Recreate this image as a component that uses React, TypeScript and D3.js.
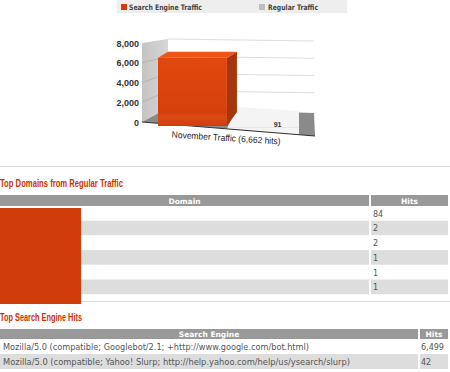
import React from "react";
import * as d3 from "d3";

const seriesNames = ["Search Engine Traffic", "Regular Traffic"];
const seriesValues = [6571, 91];
const yTicks = [0, 2000, 4000, 6000, 8000];
const categoryLabel = "November Traffic (6,662 hits)";

const domainTitle = "Top Domains from Regular Traffic";
const domainHeaders = ["Domain", "Hits"];
const domainNames = ["", "", "", "", "", ""];
const domainHits = [84, 2, 2, 1, 1, 1];

const engineTitle = "Top Search Engine Hits";
const engineHeaders = ["Search Engine", "Hits"];
const engineNames = [
  "Mozilla/5.0 (compatible; Googlebot/2.1; +http://www.google.com/bot.html)",
  "Mozilla/5.0 (compatible; Yahoo! Slurp; http://help.yahoo.com/help/us/ysearch/slurp)",
];
const engineHits = [6499, 42];

const RED = "#d13c0b";
const TITLE_RED = "#cc3300";
const fmt = d3.format(",");

const pts = (a: number[][]) => a.map((p) => p.join(",")).join(" ");

function Chart() {
  const yFront = d3.scaleLinear().domain([0, 8000]).range([126, 43]);
  const yLeft = d3.scaleLinear().domain([0, 8000]).range([122, 43]);
  const yBack = d3.scaleLinear().domain([0, 8000]).range([108, 39]);
  const x = d3.scaleBand<string>().domain(seriesNames).range([158, 298]).paddingInner(0.03);
  const dx = 10, dy = -6;
  const wallL = 142, wallB = 168, wallR = 314;
  const floorY = (px: number) => yLeft(0) + ((px - wallL) * 14) / (wallR + 1 - wallL);

  const b0 = x(seriesNames[0])!;
  const bw = x.bandwidth();
  const top0 = yFront(seriesValues[0]);
  const bot0 = yFront(0);
  const b1 = x(seriesNames[1])!;

  return (
    <g>
      <defs>
        <linearGradient id="lw" x1="0" x2="1" y1="0" y2="0">
          <stop offset="0" stopColor="#c4c4c4" />
          <stop offset="1" stopColor="#d6d6d6" />
        </linearGradient>
        <linearGradient id="ff" x1="0" x2="0" y1="0" y2="1">
          <stop offset="0" stopColor="#e2480f" />
          <stop offset="0.8" stopColor="#d4400c" />
          <stop offset="0.86" stopColor="#dc4a14" />
          <stop offset="1" stopColor="#cf3e0c" />
        </linearGradient>
      </defs>
      {/* legend */}
      <rect x={117} y={0} width={230} height={13} fill="#eeeeee" />
      <rect x={121} y={4} width={6} height={6} fill={RED} />
      <text x={129} y={10} fontFamily="DejaVu Sans" fontWeight="bold" fontSize={7.5} fill="#444" textLength={73} lengthAdjust="spacingAndGlyphs">{seriesNames[0]}</text>
      <rect x={259} y={4} width={6} height={6} fill="#bdbdbd" />
      <text x={268} y={10} fontFamily="DejaVu Sans" fontWeight="bold" fontSize={7.5} fill="#444" textLength={50} lengthAdjust="spacingAndGlyphs">{seriesNames[1]}</text>

      {/* back wall */}
      <polygon points={pts([[wallB, yBack(8000)], [wallR, yBack(8000) + 2], [wallR, yBack(0) + 5], [wallB, yBack(0)]])} fill="#ffffff" />
      {yTicks.slice(1).map((t) => (
        <line key={"bg" + t} x1={wallB} x2={wallR} y1={yBack(t)} y2={yBack(t) + 2} stroke="#dddddd" strokeWidth={1} />
      ))}
      {/* left wall */}
      <polygon points={pts([[wallL, yLeft(8000)], [wallB, yBack(8000)], [wallB, yBack(0)], [wallL, yLeft(0)]])} fill="url(#lw)" />
      {yTicks.slice(1, -1).map((t) => (
        <line key={"lg" + t} x1={wallL} x2={wallB} y1={yLeft(t)} y2={yBack(t)} stroke="#b0b0b0" strokeWidth={0.8} />
      ))}
      {/* floor */}
      <polygon points={pts([[wallL, yLeft(0)], [wallB, yBack(0)], [wallR, yBack(0) + 5], [wallR + 1, floorY(wallR + 1)]])} fill="#8a8a8a" />
      <polygon points={pts([[b0 + bw, floorY(b0 + bw)], [b1 + bw + 1, floorY(b1 + bw + 1)], [b1 + bw + 1, yBack(0) + 3], [b0 + bw + dx, yBack(0) - 1]])} fill="#f4f4f4" />
      <line x1={wallL} x2={wallR + 1} y1={floorY(wallL)} y2={floorY(wallR + 1)} stroke="#333" strokeWidth={1} />

      {/* regular traffic bar (tiny) */}
      <rect x={b1} y={yFront(seriesValues[1]) + 2} width={bw} height={bot0 - yFront(seriesValues[1])} fill="#e6e6e6" />
      <text x={b1 + bw / 2 + dx + 4} y={127} textAnchor="middle" fontFamily="Liberation Sans" fontWeight="bold" fontSize={7} fill="#333">{seriesValues[1]}</text>

      {/* search engine bar */}
      <polygon points={pts([[b0 + bw, top0], [b0 + bw + dx, top0 + dy], [b0 + bw + dx, yBack(0) + 4], [b0 + bw, bot0]])} fill="#a5360d" />
      <polygon points={pts([[b0, top0], [b0 + bw, top0], [b0 + bw + dx, top0 + dy], [b0 + dx, top0 + dy]])} fill="#f05518" />
      <rect x={b0} y={top0} width={bw} height={bot0 - top0} fill="url(#ff)" />

      {/* y labels */}
      {yTicks.map((t) => (
        <text key={"yl" + t} x={139} y={yLeft(t) + 3.5} textAnchor="end" fontFamily="Liberation Sans" fontWeight="bold" fontSize={9} fill="#333">{fmt(t)}</text>
      ))}
      {/* x label */}
      <text x={0} y={0} transform={`translate(226,141) rotate(3.6)`} textAnchor="middle" fontFamily="Liberation Sans" fontSize={9} fill="#222" textLength={109} lengthAdjust="spacingAndGlyphs">{categoryLabel}</text>
    </g>
  );
}

function Table({ y0, headerH, rowH, split, headers, names, hits, hitsX, nameWidths }: any) {
  return (
    <g>
      <rect x={0} y={y0} width={split} height={headerH} fill="#999999" />
      <rect x={split + 2} y={y0} width={448 - split - 2} height={headerH} fill="#999999" />
      <text x={split / 2} y={y0 + headerH - 2.5} textAnchor="middle" fontFamily="DejaVu Sans" fontWeight="bold" fontSize={7.5} fill="#fff">{headers[0]}</text>
      <text x={(split + 450) / 2} y={y0 + headerH - 2.5} textAnchor="middle" fontFamily="DejaVu Sans" fontWeight="bold" fontSize={7.5} fill="#fff">{headers[1]}</text>
      {hits.map((h: number, i: number) => {
        const y = y0 + headerH + i * rowH;
        const fill = i % 2 === 0 ? "#ffffff" : "#dddddd";
        return (
          <g key={i}>
            <rect x={0} y={y} width={split} height={rowH} fill={fill} />
            <rect x={split + 2} y={y} width={448 - split - 2} height={rowH} fill={fill} />
            {names[i] ? (
              <text x={3} y={y + rowH - 4} fontFamily="DejaVu Sans" fontSize={8} fill="#555" textLength={nameWidths ? nameWidths[i] : undefined} lengthAdjust="spacingAndGlyphs">{names[i]}</text>
            ) : null}
            <text x={hitsX} y={y + rowH - 4} fontFamily="DejaVu Sans" fontSize={8} fill="#555">{fmt(h)}</text>
          </g>
        );
      })}
    </g>
  );
}

export default function App() {
  return (
    <svg width={450} height={372} style={{ position: "absolute", left: 0, top: 0, background: "#fff" }}>
      <rect x={0} y={0} width={450} height={372} fill="#fff" />
      <Chart />
      <line x1={0} x2={450} y1={166.5} y2={166.5} stroke="#dddddd" strokeWidth={1} />
      <text x={0} y={187} fontFamily="Liberation Sans Narrow, Liberation Sans" fontWeight="bold" fontSize={11} fill={TITLE_RED} textLength={123} lengthAdjust="spacingAndGlyphs">{domainTitle}</text>
      <Table y0={195} headerH={11} rowH={14.7} split={369} headers={domainHeaders} names={domainNames} hits={domainHits} hitsX={373} />
      <line x1={0} x2={450} y1={301.5} y2={301.5} stroke="#dddddd" strokeWidth={1} />
      <rect x={0} y={208} width={81} height={96} fill={RED} />
      <text x={0} y={321} fontFamily="Liberation Sans Narrow, Liberation Sans" fontWeight="bold" fontSize={11} fill={TITLE_RED} textLength={82} lengthAdjust="spacingAndGlyphs">{engineTitle}</text>
      <Table y0={329} headerH={10} rowH={15} split={418} headers={engineHeaders} names={engineNames} hits={engineHits} hitsX={421} nameWidths={[306, 347]} />
    </svg>
  );
}
